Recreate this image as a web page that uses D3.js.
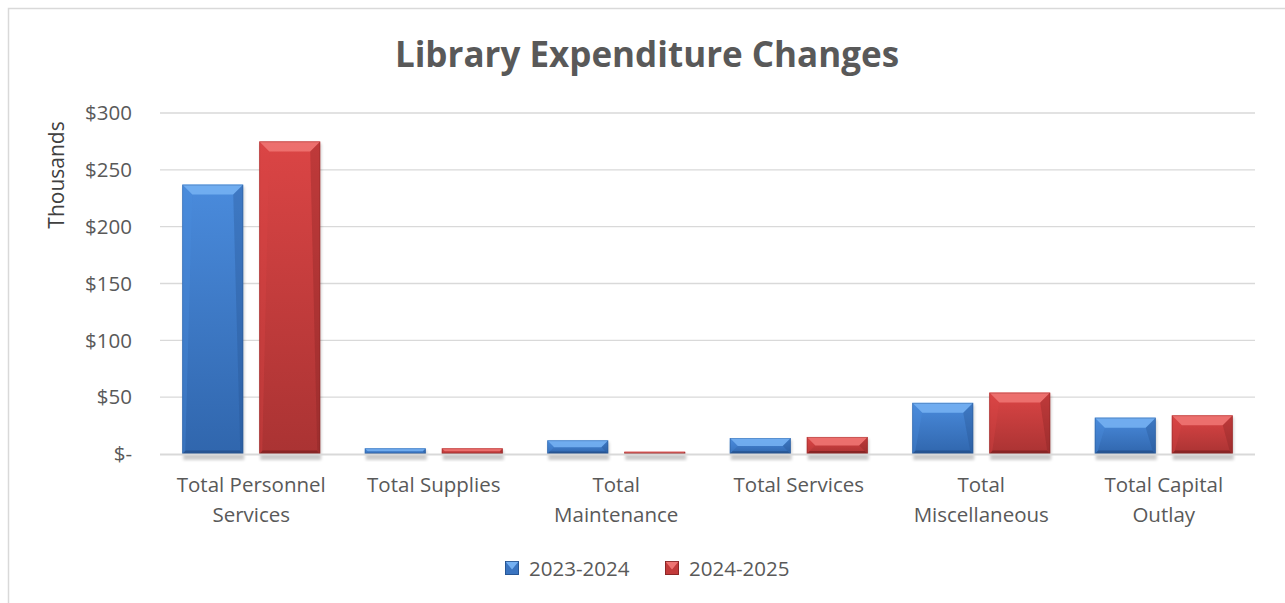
<!DOCTYPE html>
<html>
<head>
<meta charset="utf-8">
<script src="https://cdn.jsdelivr.net/npm/d3@7/dist/d3.min.js"></script>
<style>
  html, body { margin: 0; padding: 0; background: #fff; }
  svg { display: block; font-family: "Open Sans", "Noto Sans", sans-serif; }
</style>
</head>
<body>
<svg id="chart" width="1285" height="603"></svg>
<script>
// Expenditure by category, in thousands of dollars
const categories = [
  ["Total Personnel", "Services"],
  ["Total Supplies"],
  ["Total", "Maintenance"],
  ["Total Services"],
  ["Total", "Miscellaneous"],
  ["Total Capital", "Outlay"]
];
const seriesNames = ["2023-2024", "2024-2025"];
const values2324 = [237, 5, 12, 14, 45, 32];
const values2425 = [275, 5, 2, 15, 54, 34];
const yTicks = [0, 50, 100, 150, 200, 250, 300];

const svg = d3.select("#chart");
const plot = { left: 160, right: 1255, top: 113, bottom: 454 };

// Chart frame
svg.append("rect")
  .attr("x", 8.5).attr("y", 8.5).attr("width", 1290).attr("height", 610)
  .attr("fill", "#fff").attr("stroke", "#d9d9d9").attr("stroke-width", 1.5);

const palette = [
  { light: "#74b0f2", top: "#4a8bdc", bottom: "#3066ad", dark: "#244f8a", side: "#3a74c0" },
  { light: "#ee7472", top: "#db4545", bottom: "#aa3333", dark: "#7f2222", side: "#c23a3a" }
];

const defs = svg.append("defs");
palette.forEach((p, i) => {
  const g = defs.append("linearGradient").attr("id", "body" + i)
    .attr("x1", 0).attr("y1", 0).attr("x2", 0).attr("y2", 1);
  g.append("stop").attr("offset", "0%").attr("stop-color", p.top);
  g.append("stop").attr("offset", "100%").attr("stop-color", p.bottom);
});
const blur = defs.append("filter").attr("id", "shadow")
  .attr("x", "-20%").attr("y", "-20%").attr("width", "140%").attr("height", "140%");
blur.append("feGaussianBlur").attr("stdDeviation", 1.6);

const x0 = d3.scaleBand().domain(d3.range(categories.length))
  .range([plot.left, plot.right]).paddingInner(0).paddingOuter(0);
const x1 = d3.scaleBand().domain([0, 1]).range([0, x0.bandwidth()])
  .paddingInner(0.208).paddingOuter(0.289);
const y = d3.scaleLinear().domain([0, 300]).range([plot.bottom, plot.top]);

// Gridlines
svg.append("g").selectAll("line").data(yTicks.filter(t => t > 0)).join("line")
  .attr("x1", plot.left).attr("x2", plot.right)
  .attr("y1", d => y(d)).attr("y2", d => y(d))
  .attr("stroke", "#d9d9d9").attr("stroke-width", 1.3);

// Y axis labels (accounting format)
const fmt = d => d === 0 ? "$-" : "$" + d;
svg.append("g").selectAll("text").data(yTicks).join("text")
  .attr("x", 132).attr("y", d => y(d)).attr("dy", "0.35em")
  .attr("text-anchor", "end").attr("font-size", 20.5).attr("fill", "#595959")
  .text(fmt);

svg.append("text")
  .attr("transform", `translate(64,175) rotate(-90)`)
  .attr("text-anchor", "middle").attr("font-size", 21).attr("fill", "#404040")
  .text("Thousands");

// Title
svg.append("text").attr("x", 647).attr("y", 67).attr("text-anchor", "middle")
  .attr("font-size", 35).attr("font-weight", "bold").attr("fill", "#595959")
  .text("Library Expenditure Changes");

// Bars with beveled edges
function bevelBar(g, x, w, yTop, yBot, p, i) {
  const h = yBot - yTop;
  if (h <= 0) return;
  const b = Math.min(10, h / 2, w / 2);
  // soft shadow
  g.append("rect").attr("x", x + 1).attr("y", yTop + 2).attr("width", w).attr("height", h + 4)
    .attr("fill", "#000").attr("opacity", 0.2).attr("filter", "url(#shadow)");
  g.append("rect").attr("x", x).attr("y", yTop).attr("width", w).attr("height", h)
    .attr("fill", `url(#body${i})`);
  const xr = x + w;
  // top bevel
  g.append("polygon").attr("points",
    [[x, yTop], [xr, yTop], [xr - b, yTop + b], [x + b, yTop + b]].map(d => d.join(",")).join(" "))
    .attr("fill", p.light).attr("opacity", 0.9);
  // left bevel
  g.append("polygon").attr("points",
    [[x, yTop], [x + b, yTop + b], [x + b * 0.3, yBot - b * 0.3], [x, yBot]].map(d => d.join(",")).join(" "))
    .attr("fill", p.top).attr("opacity", 0.35);
  // right bevel
  g.append("polygon").attr("points",
    [[xr, yTop], [xr - b, yTop + b], [xr - b * 0.3, yBot - b * 0.3], [xr, yBot]].map(d => d.join(",")).join(" "))
    .attr("fill", p.dark).attr("opacity", 0.3);
  // bottom bevel
  const bb = Math.min(b * 0.35, h / 3);
  g.append("polygon").attr("points",
    [[x, yBot], [xr, yBot], [xr - bb, yBot - bb], [x + bb, yBot - bb]].map(d => d.join(",")).join(" "))
    .attr("fill", p.dark).attr("opacity", 0.8);
  g.append("rect").attr("x", x + 0.5).attr("y", yTop + 0.5).attr("width", w - 1).attr("height", h - 1)
    .attr("fill", "none").attr("stroke", p.dark).attr("stroke-width", 0.6).attr("opacity", 0.5);
}

const series = [values2324, values2425];
const barsG = svg.append("g");
series.forEach((vals, i) => {
  vals.forEach((v, c) => {
    const bx = x0(c) + x1(i);
    bevelBar(barsG, bx, x1.bandwidth(), y(v), y(0), palette[i], i);
  });
});

// Baseline
svg.append("line").attr("x1", plot.left).attr("x2", plot.right)
  .attr("y1", y(0) + 0.5).attr("y2", y(0) + 0.5)
  .attr("stroke", "#d9d9d9").attr("stroke-width", 2);

// Category labels
const catG = svg.append("g").selectAll("text").data(categories).join("text")
  .attr("x", (d, i) => x0(i) + x0.bandwidth() / 2)
  .attr("y", 492).attr("text-anchor", "middle")
  .attr("font-size", 20.5).attr("fill", "#595959");
catG.selectAll("tspan").data(d => d).join("tspan")
  .attr("x", function () { return this.parentNode.getAttribute("x"); })
  .attr("dy", (d, i) => i === 0 ? 0 : 30)
  .text(d => d);

// Legend
const legendX = [505, 665];
seriesNames.forEach((name, i) => {
  const g = svg.append("g");
  const p = palette[i];
  const sx = legendX[i], sy = 561, s = 14;
  g.append("rect").attr("x", sx).attr("y", sy).attr("width", s).attr("height", s).attr("fill", p.side);
  g.append("polygon").attr("points",
    [[sx, sy], [sx + s, sy], [sx + s / 2, sy + s * 0.6]].map(d => d.join(",")).join(" "))
    .attr("fill", p.light);
  g.append("rect").attr("x", sx + 0.5).attr("y", sy + 0.5).attr("width", s - 1).attr("height", s - 1)
    .attr("fill", "none").attr("stroke", p.dark).attr("stroke-width", 0.8);
  g.append("text").attr("x", sx + 24).attr("y", 576)
    .attr("font-size", 20.5).attr("fill", "#595959").text(name);
});
</script>
</body>
</html>
